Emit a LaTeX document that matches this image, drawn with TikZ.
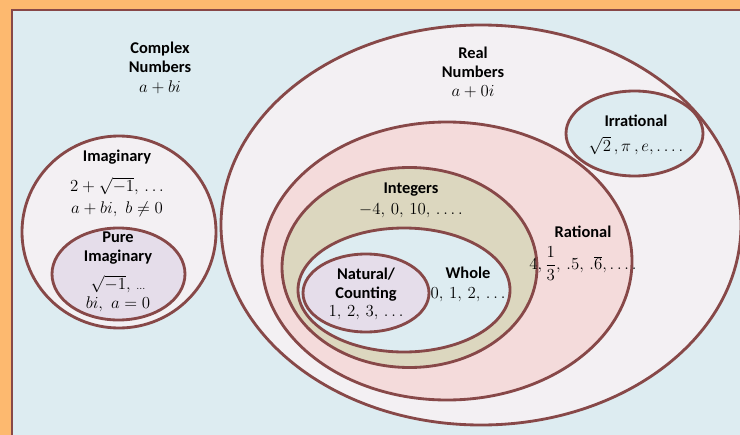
\documentclass[tikz,border=0pt]{standalone}
\usepackage{fontspec}
\setsansfont{Carlito}
\usetikzlibrary{shapes.geometric}

\definecolor{bgorange}{HTML}{FDB96F}
\definecolor{panelblue}{HTML}{DDECF1}
\definecolor{setline}{HTML}{874848}
\definecolor{realfill}{HTML}{F3F0F3}
\definecolor{ratfill}{HTML}{F4DBDB}
\definecolor{intfill}{HTML}{DCD7BF}
\definecolor{natfill}{HTML}{E5DDEA}

\newcommand{\namefont}{\sffamily\bfseries\fontsize{14}{16.3}\selectfont}
\newcommand{\mathfont}{\fontsize{13.5}{15}\selectfont}

\tikzset{
  numset/.style={ellipse, draw=setline, line width=0.85mm, inner sep=0pt},
  setname/.style={font=\namefont, align=center, inner sep=0pt},
  setmath/.style={font=\mathfont, inner sep=0pt},
}

\begin{document}
\begin{tikzpicture}[x=0.3mm, y=-0.3mm]
    \useasboundingbox (0,0) rectangle (740,435);
    \clip (0,0) rectangle (740,435);
    \fill[bgorange] (0,0) rectangle (740,435);
    \draw[setline, line width=0.8mm, fill=panelblue] (12,10) rectangle (780,470);

    % the sets, outermost first
    \node[numset, fill=realfill, minimum width=156mm, minimum height=120mm] (real) at (481,225) {};
    \node[numset, fill=panelblue, minimum width=41.1mm, minimum height=25.5mm] (irrational) at (634.5,133.5) {};
    \node[numset, fill=ratfill, minimum width=111mm, minimum height=83.4mm] (rational) at (447,261) {};
    \node[numset, fill=intfill, minimum width=76.5mm, minimum height=60mm] (integers) at (409.5,267.5) {};
    \node[numset, fill=panelblue, minimum width=63.6mm, minimum height=37.2mm] (whole) at (404,290) {};
    \node[numset, fill=natfill, minimum width=37.8mm, minimum height=23.4mm] (natural) at (366,293) {};
    \node[numset, fill=realfill, minimum width=58.2mm, minimum height=57.6mm] (imaginary) at (119,232) {};
    \node[numset, fill=natfill, minimum width=39.9mm, minimum height=27.6mm] (pure) at (118.5,274) {};

    % labels
    \node[setname] (complexname) at (160,57.5) {Complex\\Numbers};
    \node[setmath] (complexmath) at (160,87) {$a+bi$};
    \node[setname] (realname) at (473,62) {Real\\Numbers};
    \node[setmath] (realmath) at (473,92) {$a+0i$};
    \node[setname] (irrname) at (636,121) {Irrational};
    \node[setmath] (irrmath) at (636,146) {$\sqrt{2}\,,\pi\,,e,\ldots.$};
    \node[setname] (imagname) at (117,157) {Imaginary};
    \node[setmath] (imagmath) at (117,186) {$2+\sqrt{-1},\,\ldots$};
    \node[setmath] (imagform) at (117,209) {$a+bi,\ b\neq 0$};
    \node[setname] (purename) at (118,248) {Pure\\Imaginary};
    \node[setmath] (puremath) at (118,284) {$\sqrt{-1},\,{\scriptstyle\ldots}$};
    \node[setmath] (pureform) at (118,304) {$bi,\ a=0$};
    \node[setname] (intname) at (411,190) {Integers};
    \node[setmath] (intmath) at (411,211) {$-4,\,0,\,10,\,\ldots.$};
    \node[setname] (ratname) at (583,232) {Rational};
    \node[setmath] (ratmath) at (583,264) {$4,{\displaystyle\frac{1}{3}},\,.5,\,.\overline{6},\ldots.$};
    \node[setname] (wholename) at (468,273) {Whole};
    \node[setmath] (wholemath) at (468,295) {$0,\,1,\,2,\,\ldots$};
    \node[setname] (natname) at (366,285) {Natural/\\Counting};
    \node[setmath] (natmath) at (366,313) {$1,\,2,\,3,\,\ldots$};
\end{tikzpicture}
\end{document}
